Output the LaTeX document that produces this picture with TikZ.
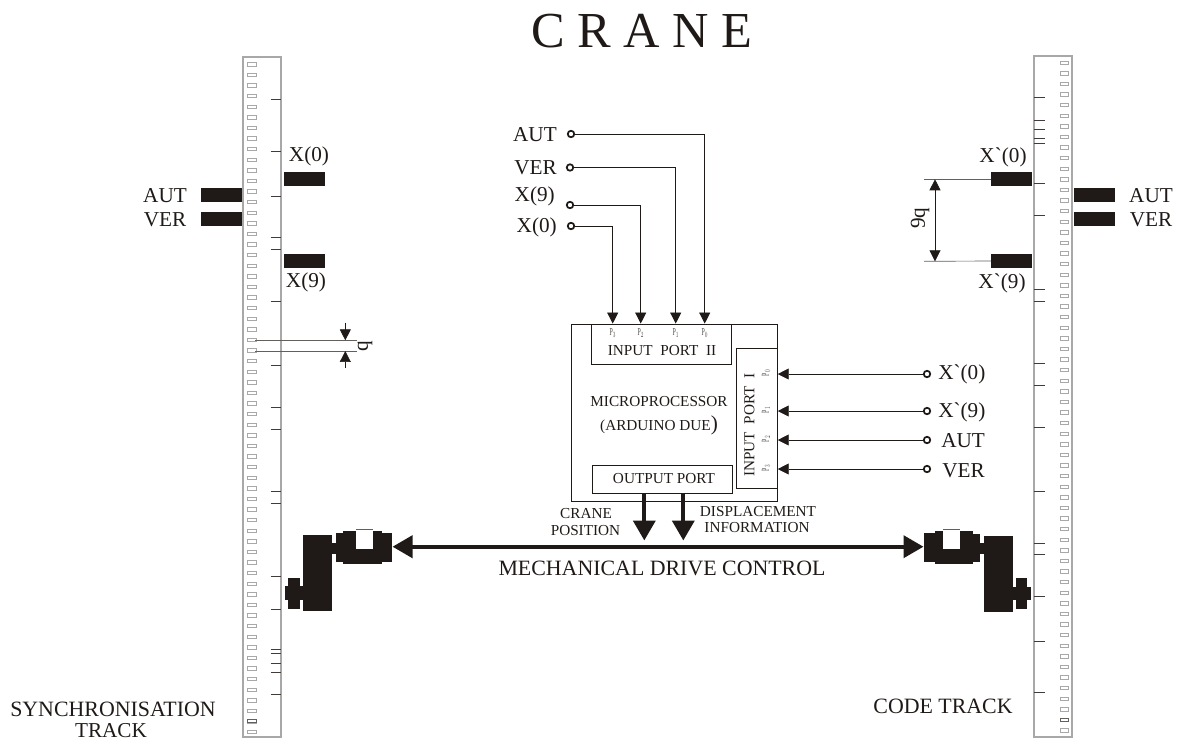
\documentclass[tikz,border=0pt]{standalone}
\usepackage{fontspec}
\setmainfont{Liberation Serif}[Ligatures=TeXOff]
\usetikzlibrary{arrows.meta}
\newcommand{\px}{0.0265cm}
\newcommand{\pl}[1]{\scalebox{.55}[1]{P$_{#1}$}}
\definecolor{ink}{HTML}{1F1A17}
\definecolor{rail}{HTML}{A8A8A8}
\tikzset{
  lab/.style={inner sep=0pt, text=ink, font=\fontsize{16}{17}\selectfont},
  small/.style={inner sep=0pt, text=ink, font=\fontsize{11.5}{13}\selectfont},
  tiny/.style={inner sep=0pt, text=ink!80, font=\fontsize{8}{9}\selectfont},
  bar/.style={fill=ink, inner sep=0pt, minimum width=41*\px, minimum height=14*\px},
  port/.style={draw=ink, line width=0.7pt, inner sep=0pt},
  pin/.style={draw=ink, circle, line width=1.3pt, inner sep=0pt, minimum size=6.5*\px},
  sig/.style={draw=ink, line width=0.5pt, -{Triangle[length=2.9mm,width=2.9mm]}},
  dim/.style={draw=ink!70, line width=0.5pt},
  bus/.style={draw=ink, line width=1.1mm, -{Triangle[length=5.3mm,width=5.8mm]}}
}
\begin{document}
\begin{tikzpicture}[x=\px,y=-\px]
\useasboundingbox (0,0) rectangle (1178,742);
\node[inner sep=0pt, text=ink, font=\fontsize{38}{38}\selectfont] (title) at (642,31) {C R A N E};

\draw[rail, line width=0.8pt] (243,57) rectangle (281,737);
\draw[rail, line width=0.8pt] (1034,56) rectangle (1072,737);
\foreach \n in {0,...,63} {
  \draw[rail, line width=0.6pt] (247.5,{62.6+10.6*\n}) rectangle (256,{66+10.6*\n});
  \draw[rail, line width=0.6pt] (1060,{61+10.6*\n}) rectangle (1068,{64.4+10.6*\n});
}
\draw[ink!70, line width=0.6pt] (247.5,719.2) rectangle (256,722.6);
\draw[ink!70, line width=0.6pt] (1060,718) rectangle (1068,721.4);
\foreach \t in {99.3,151,196,237.7,249.3,301,365,407.3,429.3,491,503.3,576.7,609,649.3,653.7,663,672,694.7}
  \draw[ink!85, line width=0.7pt] (270.5,\t) -- (281,\t);
\foreach \t in {97.7,120.7,129.3,138.7,143,183.3,215.7,289,301,363.3,385,427.3,491,543,554.7,596.7,641,692.7}
  \draw[ink!85, line width=0.7pt] (1034,\t) -- (1045,\t);

\node[bar] (xz) at (304.3,179.3) {};
\node[bar] (xn) at (304.3,260.7) {};
\node[bar] (laut) at (221.7,195.3) {};
\node[bar] (lver) at (221.3,219.3) {};
\node[bar] (xpz) at (1011.7,179.3) {};
\node[bar] (xpn) at (1011.7,261) {};
\node[bar] (raut) at (1094.3,195.3) {};
\node[bar] (rver) at (1094.5,219.3) {};

\node[lab] (tlaut) at (165,196) {AUT};
\node[lab] (tlver) at (165,220) {VER};
\node[lab] (txz) at (309,156) {X(0)};
\node[lab] (txn) at (306,282) {X(9)};
\node[lab] (traut) at (1151,196) {AUT};
\node[lab] (trver) at (1151,220) {VER};
\node[lab] (txpz) at (1003,157) {X`(0)};
\node[lab] (txpn) at (1002,283) {X`(9)};

\coordinate (qa) at (255,340.3);
\coordinate (qb) at (255,351);
\coordinate (qc) at (357,340.3);
\coordinate (qd) at (357,351);
\coordinate (qe) at (345.3,322.7);
\coordinate (qf) at (345.3,368);
\draw[dim] (qa) -- (qc);
\draw[dim] (qb) -- (qd);
\draw[sig] (qe) -- (qe |- qa);
\draw[sig] (qf) -- (qf |- qb);
\node[lab, rotate=90] (tq) at (365,346) {q};

\coordinate (na) at (924,179.3);
\coordinate (nb) at (924,261.3);
\coordinate (nc) at (935,220);
\draw[dim] (na) -- (xpz.west);
\draw[dim] (nb) -- (xpn.west);
\draw[sig] (nc) -- (nc |- na);
\draw[sig] (nc) -- (nc |- nb);
\node[lab, rotate=90] (tnq) at (920,218) {9q};

\node[port, minimum width=205.6*\px, minimum height=177*\px] (micro) at (674.5,412.5) {};
\node[port, minimum width=139.7*\px, minimum height=40.3*\px] (portii) at (661.2,344.2) {};
\node[port, minimum width=41*\px, minimum height=139.7*\px] (porti) at (756.8,418.2) {};
\node[port, minimum width=140.4*\px, minimum height=28*\px] (portout) at (662.5,479) {};

\node[small] (tii) at (662,351) {INPUT\ \ PORT\ \ II};
\node[small, rotate=90] (ti) at (749.5,425) {INPUT\ \ PORT\ \ I};
\node[small] (tout) at (664,479) {OUTPUT PORT};
\node[small] (tmic) at (659,402) {MICROPROCESSOR};
\node[small] (tard) at (659,425) {(ARDUINO DUE{\fontsize{16}{16}\selectfont)}};

\node[tiny] (pd) at (612.7,333) {\pl{3}};
\node[tiny] (pc) at (640.7,333) {\pl{2}};
\node[tiny] (pb) at (675.7,333) {\pl{1}};
\node[tiny] (pa) at (704.7,333) {\pl{0}};
\node[tiny, rotate=90] (ra) at (766,373) {\pl{0}};
\node[tiny, rotate=90] (rb) at (766,410) {\pl{1}};
\node[tiny, rotate=90] (rc) at (766,439) {\pl{2}};
\node[tiny, rotate=90] (rd) at (766,468) {\pl{3}};

\node[pin] (caut) at (571,134) {};
\node[pin] (cver) at (570,167.5) {};
\node[pin] (cxn) at (570,205) {};
\node[pin] (cxz) at (571,226) {};
\node[lab, anchor=east] (taut) at (557,135) {AUT};
\node[lab, anchor=east] (tver) at (557,168) {VER};
\node[lab, anchor=east] (tcxn) at (555,196) {X(9)};
\node[lab, anchor=east] (tcxz) at (557,227) {X(0)};
\draw[sig] (caut) -| (micro.north -| pa);
\draw[sig] (cver) -| (micro.north -| pb);
\draw[sig] (cxn) -| (micro.north -| pc);
\draw[sig] (cxz) -| (micro.north -| pd);

\node[pin] (dxz) at (927,374) {};
\node[pin] (dxn) at (927,411) {};
\node[pin] (daut) at (927,440) {};
\node[pin] (dver) at (927,469) {};
\node[lab, anchor=west] (tdxz) at (938,374) {X`(0)};
\node[lab, anchor=west] (tdxn) at (938,412) {X`(9)};
\node[lab, anchor=west] (tdaut) at (941,441) {AUT};
\node[lab, anchor=west] (tdver) at (942,471) {VER};
\draw[sig] (dxz) -- (porti.east |- dxz);
\draw[sig] (dxn) -- (porti.east |- dxn);
\draw[sig] (daut) -- (porti.east |- daut);
\draw[sig] (dver) -- (porti.east |- dver);

\coordinate (posa) at (644.3,540.5);
\coordinate (posb) at (683.3,540.5);
\draw[bus] (portout.south -| posa) -- (posa);
\draw[bus] (portout.south -| posb) -- (posb);
\node[small] (tcr) at (586,514) {CRANE};
\node[small] (tpo) at (585.5,531) {POSITION};
\node[small] (tdi) at (758,512) {DISPLACEMENT};
\node[small] (tin) at (757,528) {INFORMATION};

\fill[ink] (302.7,535.3) rectangle (332.3,611);
\fill[ink] (332.3,543.3) rectangle (336,554);
\fill[ink] (336,533.3) rectangle (343.3,562.3);
\fill[ink] (343.3,530.7) rectangle (381.7,564.3);
\fill[ink] (381.7,532.7) rectangle (392,562.3);
\fill[white] (356.3,528.7) rectangle (373,548.7);
\draw[ink!70, line width=0.5pt] (356.3,529) -- (373,529);
\fill[ink] (285,586.3) rectangle (302.7,600);
\fill[ink] (288.3,577.7) rectangle (300,608.7);

\fill[ink] (984,535.7) rectangle (1013.3,611.7);
\fill[ink] (980.3,543.3) rectangle (984,554);
\fill[ink] (973,534) rectangle (980.3,562.3);
\fill[ink] (934.7,530.7) rectangle (973,564.3);
\fill[ink] (924,532.7) rectangle (934.7,562.3);
\fill[white] (943.3,529.3) rectangle (960,549.3);
\draw[ink!70, line width=0.5pt] (943.3,529.5) -- (960,529.5);
\fill[ink] (1013.3,587.3) rectangle (1031,600);
\fill[ink] (1016,578.3) rectangle (1027.3,609.3);

\coordinate (drl) at (392.5,546.7);
\coordinate (drr) at (923.5,546.7);
\draw[draw=ink, line width=1.1mm, {Triangle[length=5.3mm,width=5.8mm]}-{Triangle[length=5.3mm,width=5.8mm]}] (drl) -- (drr);
\node[lab, font=\fontsize{16.5}{17}\selectfont] (tmech) at (662,568) {MECHANICAL DRIVE CONTROL};

\node[lab, font=\fontsize{16.5}{17}\selectfont] (tsyn) at (113,709) {SYNCHRONISATION};
\node[lab, anchor=south] (ttr) at (111,738) {TRACK};
\node[lab, font=\fontsize{16.5}{17}\selectfont] (tcode) at (943,706) {CODE TRACK};
\end{tikzpicture}
\end{document}
